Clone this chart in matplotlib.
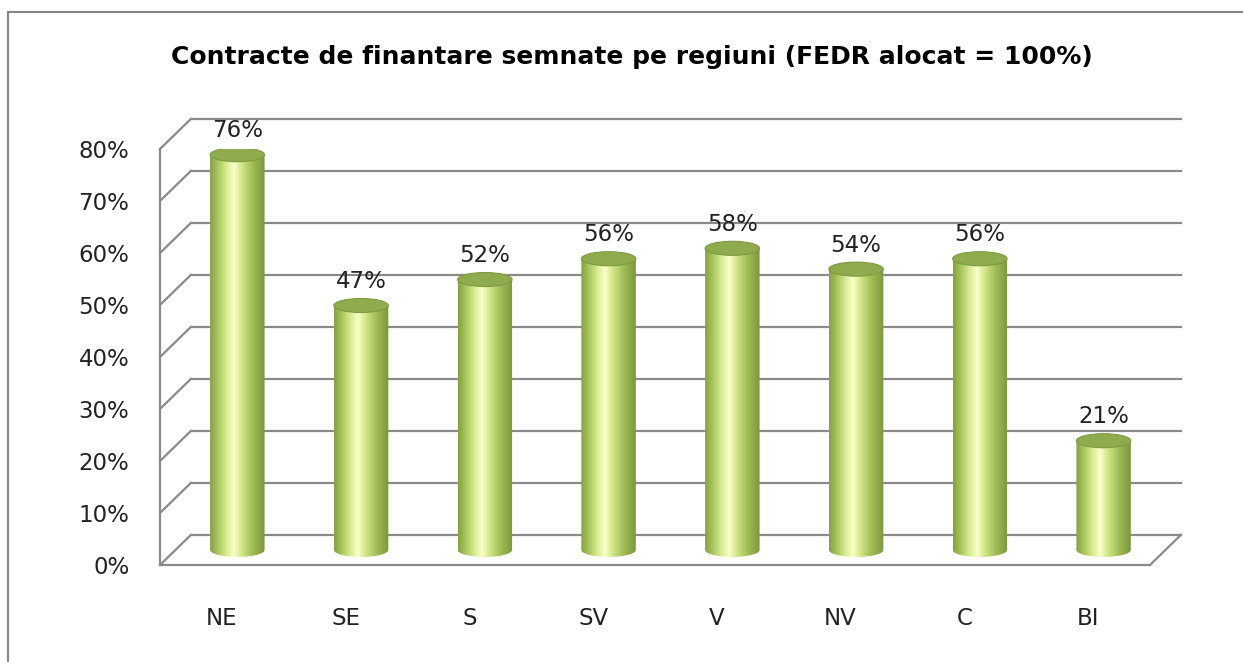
import numpy as np
import matplotlib.pyplot as plt
from matplotlib.patches import Ellipse, PathPatch
from matplotlib.path import Path
from matplotlib.colors import LinearSegmentedColormap
from matplotlib.lines import Line2D

regions = ['NE', 'SE', 'S', 'SV', 'V', 'NV', 'C', 'BI']
values = [76, 47, 52, 56, 58, 54, 56, 21]
yticks = [0, 10, 20, 30, 40, 50, 60, 70, 80]
title = 'Contracte de finantare semnate pe regiuni (FEDR alocat = 100%)'

# depth of the 3d box in data units (categories, percent)
depth_x = 0.25
depth_y = 5.8
bar_w = 0.44
cap_h = 2.7
grid_col = '#8a8a8a'

cyl_cmap = LinearSegmentedColormap.from_list('cyl', [
    (0.0, '#84a043'), (0.14, '#a8c55e'), (0.3, '#d8ec92'),
    (0.44, '#fbffca'), (0.56, '#d6ea8c'), (0.78, '#a0bc56'), (1.0, '#7b973d')])

fig = plt.figure(figsize=(12.43, 6.62), dpi=100)
ax = fig.add_axes([160 / 1243, 97 / 662, 990 / 1243, 416 / 662])
ax.set_xlim(-0.5, 7.5)
ax.set_ylim(0, 80)
for s in ax.spines.values():
    s.set_visible(False)

# back wall grid + left wall diagonals
for v in yticks:
    ax.plot([-0.5 + depth_x, 7.5 + depth_x], [v + depth_y, v + depth_y],
            color=grid_col, lw=1.6, clip_on=False, zorder=1)
    ax.plot([-0.5, -0.5 + depth_x], [v, v + depth_y],
            color=grid_col, lw=1.6, clip_on=False, zorder=1)
ax.plot([-0.5, -0.5], [0, 80], color=grid_col, lw=1.6, clip_on=False, zorder=1)
# floor
ax.plot([-0.5, 7.5], [0, 0], color=grid_col, lw=1.6, clip_on=False, zorder=1)
ax.plot([7.5, 7.5 + depth_x], [0, depth_y], color=grid_col, lw=1.6, clip_on=False, zorder=1)

grad = np.linspace(0, 1, 256).reshape(1, -1)
base = depth_y / 2
for i, v in enumerate(values):
    cx = i + depth_x / 2
    top = v + base
    x0, x1 = cx - bar_w / 2, cx + bar_w / 2
    t = np.linspace(np.pi, 2 * np.pi, 60)
    pts = [(x0, top), (x0, base)]
    pts += list(zip(cx + bar_w / 2 * np.cos(t), base + cap_h / 2 * np.sin(t)))
    pts += [(x1, base), (x1, top), (x0, top)]
    body = PathPatch(Path(pts, closed=True), facecolor='none', edgecolor='none')
    ax.add_patch(body)
    im = ax.imshow(grad, cmap=cyl_cmap, aspect='auto', zorder=3,
                   extent=(x0, x1, base - cap_h / 2, top), interpolation='bilinear')
    im.set_clip_path(body)
    ax.add_patch(Ellipse((cx, top), bar_w, cap_h, facecolor='#8eab4e',
                         edgecolor='#7d9a40', lw=0.8, zorder=4))
    ax.annotate(f'{v}%', (cx, top), xytext=(0, 9), textcoords='offset points',
                ha='center', va='bottom', fontsize=16.5, color='#222222', zorder=5)

ax.set_xlim(-0.5, 7.5)
ax.set_ylim(0, 80)
ax.set_yticks(yticks)
ax.set_yticklabels([f'{v}%' for v in yticks])
ax.set_xticks(range(len(regions)))
ax.set_xticklabels(regions)
ax.tick_params(axis='y', length=0, pad=22, labelsize=16.5, labelcolor='#222222')
ax.tick_params(axis='x', length=0, pad=30, labelsize=16.5, labelcolor='#222222')

fig.text(632 / 1243, 1 - 57 / 662, title, ha='center', va='center',
         fontsize=18, fontweight='bold')

# chart frame (top and left edges)
fig.add_artist(Line2D([8 / 1243, 8 / 1243], [0, 1 - 12 / 662], transform=fig.transFigure,
                      color='#868686', lw=1.5))
fig.add_artist(Line2D([8 / 1243, 1], [1 - 12 / 662, 1 - 12 / 662], transform=fig.transFigure,
                      color='#868686', lw=1.5))

fig.savefig('out.png', dpi=100)
